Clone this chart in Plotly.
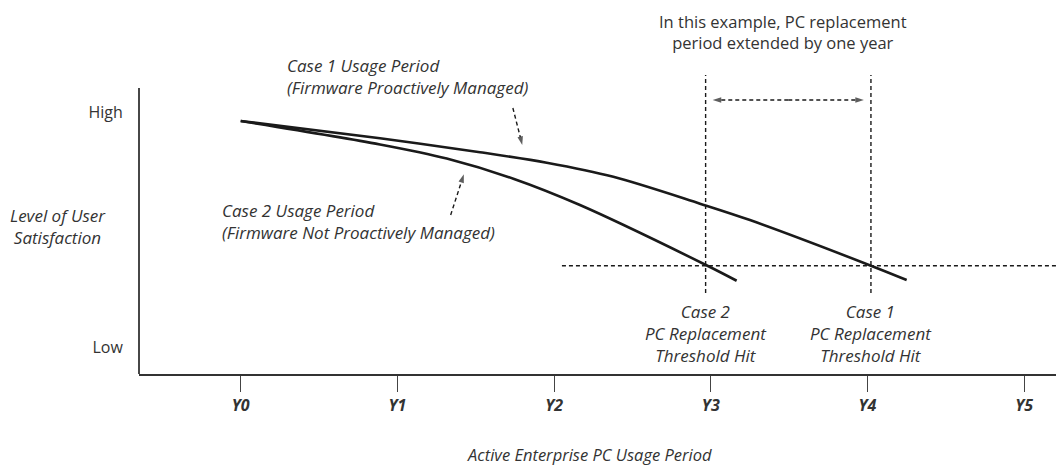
import plotly.graph_objects as go

# Usage period in years (Y0 = start of deployment) and user satisfaction
case1_years = [0, 0.889, 1.527, 1.953, 2.378, 2.931, 3.25, 4.022, 4.25]
case1_satisfaction = [0.962, 0.888, 0.829, 0.784, 0.724, 0.610, 0.540, 0.346, 0.285]

case2_years = [0, 0.889, 1.315, 1.740, 2.165, 2.969, 3.165]
case2_satisfaction = [0.962, 0.862, 0.802, 0.716, 0.604, 0.349, 0.282]

# Satisfaction level at which the PC gets replaced
threshold_level = 0.346
threshold_start = 2.05
case2_hit_year = 2.967
case1_hit_year = 4.022

tick_years = [0, 1, 2, 3, 4, 5]
tick_labels = ["Y0", "Y1", "Y2", "Y3", "Y4", "Y5"]
level_vals = [0, 1]
level_labels = ["Low", "High"]

X_RANGE = [-0.649, 5.203]
Y_RANGE = [-0.1149, 1.2213]

FONT = "'Open Sans', Lato, sans-serif"
TEXT_COLOR = "#333333"
LINE_COLOR = "#1a1a1a"

fig = go.Figure()

# Satisfaction curves
for xs, ys in [(case1_years, case1_satisfaction), (case2_years, case2_satisfaction)]:
    fig.add_trace(go.Scatter(x=xs, y=ys, mode="lines",
                             line=dict(color=LINE_COLOR, width=2.6, shape="spline", smoothing=0.9),
                             hoverinfo="skip"))

dash_style = dict(color=LINE_COLOR, width=1.4, dash="4px,3px")

# Replacement threshold
fig.add_trace(go.Scatter(x=[threshold_start, X_RANGE[1]], y=[threshold_level, threshold_level],
                         mode="lines", line=dash_style, hoverinfo="skip"))

# Vertical markers where each case hits the threshold
for yr in [case2_hit_year, case1_hit_year]:
    fig.add_trace(go.Scatter(x=[yr, yr], y=[0.23, 1.157], mode="lines",
                             line=dash_style, hoverinfo="skip"))


def dashed_arrow(x0, y0, x1, y1):
    fig.add_trace(go.Scatter(
        x=[x0, x1], y=[y0, y1], mode="lines+markers",
        line=dash_style,
        marker=dict(symbol="arrow", size=[0, 9], color=LINE_COLOR, angleref="previous",
                    line=dict(width=0)),
        hoverinfo="skip"))


# Extension arrow between the two threshold hits
mid = (case2_hit_year + case1_hit_year) / 2
dashed_arrow(mid, 1.051, case2_hit_year + 0.045, 1.051)
dashed_arrow(mid, 1.051, case1_hit_year - 0.045, 1.051)

# Pointers from the case labels to their curves
dashed_arrow(1.737, 1.017, 1.797, 0.86)
dashed_arrow(1.340, 0.562, 1.424, 0.735)

# Left axis line (stops just above the "High" level)
fig.add_shape(type="line", xref="paper", yref="y", x0=0, x1=0, y0=Y_RANGE[0], y1=1.102,
              line=dict(color="#333333", width=1.8))

ital = dict(family=FONT, size=17, color=TEXT_COLOR, style="italic")
reg = dict(family=FONT, size=16.5, color=TEXT_COLOR)

annotations = [
    dict(x=0.283, y=1.153, text="Case 1 Usage Period<br>(Firmware Proactively Managed)",
         xanchor="left", yanchor="middle", align="left", font=ital),
    dict(x=-0.132, y=0.536, text="Case 2 Usage Period<br>(Firmware Not Proactively Managed)",
         xanchor="left", yanchor="middle", align="left", font=ital),
    dict(x=3.46, y=1.090, yref="paper", text="In this example, PC replacement<br>period extended by one year",
         xanchor="center", yanchor="middle", align="center", font=reg),
    dict(x=case2_hit_year, y=0.057, text="Case 2<br>PC Replacement<br>Threshold Hit",
         xanchor="center", yanchor="middle", align="center", font=ital),
    dict(x=case1_hit_year, y=0.057, text="Case 1<br>PC Replacement<br>Threshold Hit",
         xanchor="center", yanchor="middle", align="center", font=ital),
    dict(x=2.223, y=-0.256, yref="paper", text="Active Enterprise PC Usage Period",
         xanchor="center", yanchor="middle", font=dict(ital, size=16.5)),
    dict(x=-0.0883, xref="paper", y=0.511, text="Level of User<br>Satisfaction",
         xanchor="center", yanchor="middle", align="center", font=ital),
]
for a in annotations:
    a.setdefault("xref", "x")
    a.setdefault("yref", "y")
    a["showarrow"] = False
fig.update_layout(annotations=annotations)

fig.update_layout(
    width=1056, height=470,
    margin=dict(l=139, r=0, t=60, b=96),
    paper_bgcolor="white", plot_bgcolor="white",
    showlegend=False,
    xaxis=dict(range=X_RANGE, tickvals=tick_years, ticktext=tick_labels,
               showgrid=False, zeroline=False, showline=True, linecolor="#333333", linewidth=1.8,
               ticks="outside", ticklen=16, tickwidth=1.4, tickcolor="#444444",
               tickfont=dict(family=FONT, size=16, color=TEXT_COLOR, weight="bold", style="italic"),
               fixedrange=True),
    yaxis=dict(range=Y_RANGE, tickvals=level_vals, ticktext=level_labels,
               showgrid=False, zeroline=False, showline=False,
               ticks="outside", ticklen=12, tickcolor="rgba(0,0,0,0)",
               tickfont=dict(family=FONT, size=16, color=TEXT_COLOR),
               fixedrange=True),
)

fig.write_html("out.html")
